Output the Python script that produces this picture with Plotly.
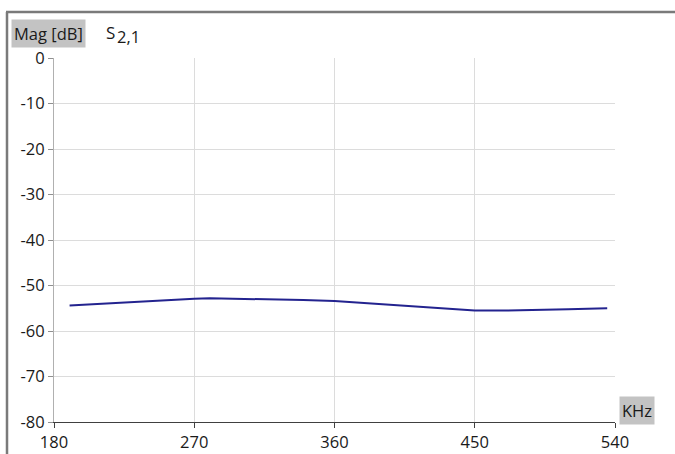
import plotly.graph_objects as go

freq_khz = [190, 210, 230, 250, 270, 280, 300, 320, 340, 360, 380, 400, 420, 440, 450, 470, 490, 510, 535]
mag_db = [-54.4, -54.0, -53.6, -53.2, -52.9, -52.8, -52.9, -53.1, -53.2, -53.4, -53.9, -54.4, -54.9, -55.4, -55.5, -55.5, -55.4, -55.2, -55.0]
x_ticks = [180, 270, 360, 450, 540]
y_ticks = [0, -10, -20, -30, -40, -50, -60, -70, -80]

W, H = 675, 454
L, R, T, B = 54, 60, 58, 32
pw, ph = W - L - R, H - T - B

def px(x):
    return (x - L) / pw

def py(y):
    return (H - B - y) / ph

font = "Open Sans, Liberation Sans, sans-serif"
FS = 16.5

fig = go.Figure()
fig.add_trace(go.Scatter(x=freq_khz, y=mag_db, mode="lines",
                         line=dict(color="#23238f", width=2), hoverinfo="skip"))

fig.update_layout(
    width=W, height=H, margin=dict(l=L, r=R, t=T, b=B, autoexpand=False),
    paper_bgcolor="white", plot_bgcolor="white", showlegend=False,
    font=dict(family=font, size=FS, color="#1a1a1a"),
    xaxis=dict(range=[180, 540], tickvals=x_ticks, ticktext=[str(v) for v in x_ticks],
               showgrid=True, gridcolor="#dcdcdc", gridwidth=1,
               showline=True, linecolor="#404040", linewidth=1.2,
               ticks="outside", ticklen=5, tickcolor="#404040",
               zeroline=False, fixedrange=True, automargin=False),
    yaxis=dict(range=[-80, 0], tickvals=y_ticks, ticktext=[str(v) for v in y_ticks],
               showgrid=True, gridcolor="#dcdcdc", gridwidth=1,
               showline=True, linecolor="#b0b0b0", linewidth=1,
               ticks="outside", ticklen=5, tickcolor="#909090",
               zeroline=False, fixedrange=True, automargin=False),
)

shapes = [
    dict(type="line", xref="paper", yref="paper", x0=px(7), x1=px(7), y0=py(H + 5), y1=py(12),
         line=dict(color="#7a7a7a", width=2.5)),
    dict(type="line", xref="paper", yref="paper", x0=px(6), x1=px(W + 5), y0=py(12), y1=py(12),
         line=dict(color="#7a7a7a", width=2.5)),
    dict(type="line", xref="x", yref="paper", x0=360, x1=360, y0=0, y1=1,
         line=dict(color="#b8b8b8", width=1), layer="below"),
]
fig.update_layout(shapes=shapes)

fig.add_annotation(text="Mag [dB]", xref="paper", yref="paper", x=px(11), y=py(33),
                   xanchor="left", yanchor="middle", showarrow=False, bgcolor="#c3c3c3",
                   borderpad=2, font=dict(size=FS, family=font, color="#1a1a1a"))
fig.add_annotation(text="S", xref="paper", yref="paper", x=px(104), y=py(32),
                   xanchor="left", yanchor="middle", showarrow=False,
                   font=dict(size=17, family=font, color="#1a1a1a"))
fig.add_annotation(text="2,1", xref="paper", yref="paper", x=px(115), y=py(36),
                   xanchor="left", yanchor="middle", showarrow=False,
                   font=dict(size=FS, family=font, color="#1a1a1a"))
fig.add_annotation(text="KHz", xref="paper", yref="paper", x=px(619), y=py(410.5),
                   xanchor="left", yanchor="middle", showarrow=False, bgcolor="#c3c3c3",
                   borderpad=2, font=dict(size=FS, family=font, color="#1a1a1a"))

fig.write_html("out.html", config={"displayModeBar": False},
               post_script="document.body.style.margin='0';document.body.style.overflow='hidden';")
